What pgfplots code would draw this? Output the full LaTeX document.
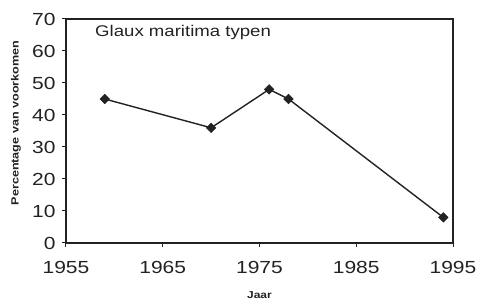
\documentclass[border=0pt]{standalone}
\usepackage{fontspec}
\setmainfont{Liberation Sans}[FakeStretch=1.2]
\usepackage{pgfplots}
\pgfplotsset{compat=1.18}
\definecolor{ink}{HTML}{222222}
\begin{document}
\begin{tikzpicture}
\begin{axis}[
  scale only axis,
  width=387pt, height=224pt,
  xmin=1955, xmax=1995, ymin=0, ymax=70,
  xtick={1955,1965,1975,1985,1995},
  ytick={0,10,...,70},
  /pgf/number format/assume math mode=true,
  xticklabel={\pgfmathprintnumber[1000 sep={}]{\tick}},
  yticklabel={\pgfmathprintnumber{\tick}},
  tick label style={font=\fontsize{17.5}{18}\selectfont, text=ink},
  xticklabel style={yshift=-11pt},
  yticklabel style={xshift=-3pt},
  tick align=outside,
  major tick length=4pt,
  xtick pos=bottom, ytick pos=left,
  axis line style={ink, line width=1.3pt},
  tick style={ink, line width=1pt},
  ylabel={Percentage van voorkomen},
  ylabel style={at={(axis description cs:0,0.5)}, anchor=center, rotate=0, yshift=50pt, xshift=8pt, font=\fontsize{10.5}{12}\selectfont\bfseries, text=ink},
  xlabel={Jaar},
  xlabel style={at={(axis description cs:0.5,0)}, anchor=center, yshift=-52pt, font=\fontsize{10}{12}\selectfont\bfseries, text=ink},
  clip=false,
]
\addplot[ink, line width=1.4pt, mark=square*, mark size=3.4pt, mark options={fill=ink, draw=ink, line width=0.5pt, rotate=45}] coordinates {
  (1959,45) (1970,36) (1976,48) (1978,45) (1994,8)
};
\node[anchor=base west, font=\fontsize{15.5}{16}\selectfont, text=ink, inner sep=0pt] at (rel axis cs:0.075,0.92) {Glaux maritima typen};
\end{axis}
\pgfresetboundingbox
\path[use as bounding box] (current axis.south west) ++(-66pt,-62pt) rectangle ([shift={(24pt,19pt)}]current axis.north east);
\end{tikzpicture}
\end{document}
